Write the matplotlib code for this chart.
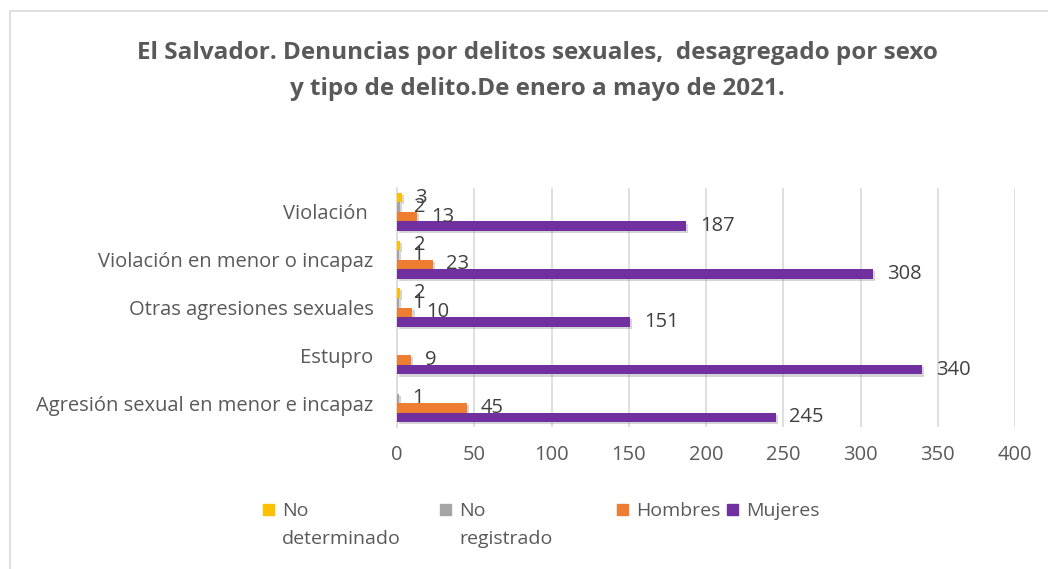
import numpy as np
import matplotlib
import matplotlib.pyplot as plt
import matplotlib.patheffects as pe
from matplotlib.patches import Rectangle

matplotlib.rcParams['font.family'] = ['Open Sans', 'DejaVu Sans']

# bottom to top, as drawn
categories = ['Agresión sexual en menor e incapaz', 'Estupro',
              'Otras agresiones sexuales', 'Violación en menor o incapaz',
              'Violación ']
no_determinado = [0, 0, 2, 2, 3]
no_registrado = [1, 0, 1, 1, 2]
hombres = [45, 9, 10, 23, 13]
mujeres = [245, 340, 151, 308, 187]

series = ['No\ndeterminado', 'No\nregistrado', 'Hombres', 'Mujeres']
values = [no_determinado, no_registrado, hombres, mujeres]
colors = ['#FFC000', '#A5A5A5', '#ED7D31', '#7030A0']
offsets = [0.3, 0.1, -0.1, -0.3]
xticks = [0, 50, 100, 150, 200, 250, 300, 350, 400]

grey = '#595959'
label_col = '#404040'

fig = plt.figure(figsize=(10.48, 5.69), dpi=100)
ax = fig.add_axes([397/1048, 1-427/569, 618/1048, 239/569])

y = np.arange(len(categories))
shadow = [pe.SimplePatchShadow(offset=(1.5, -1.5), shadow_rgbFace='#888888', alpha=0.35),
          pe.Normal()]
for vals, col, off in zip(values, colors, offsets):
    bars = ax.barh(y + off, vals, height=0.2, color=col, zorder=3)
    for b in bars:
        b.set_path_effects(shadow)
    for yy, v in zip(y, vals):
        if v > 0:
            ax.annotate(str(v), (v, yy + off), xytext=(10, 0),
                        textcoords='offset points', va='center', ha='left',
                        fontsize=14.5, color=label_col, zorder=4)

ax.set_xlim(0, 400)
ax.set_ylim(-0.5, len(categories) - 0.5)
ax.set_xticks(xticks)
ax.set_yticks(y)
ax.set_yticklabels(categories)
ax.xaxis.grid(True, color='#D9D9D9', linewidth=1.2, zorder=0)
ax.tick_params(axis='both', length=0, labelsize=14.5, labelcolor=grey)
ax.tick_params(axis='x', pad=13)
ax.tick_params(axis='y', pad=17)
for s in ['top', 'right', 'bottom']:
    ax.spines[s].set_visible(False)
ax.spines['left'].set_color('#D9D9D9')
ax.spines['left'].set_linewidth(1.2)

fig.text(537/1048, 1-53/569,
         'El Salvador. Denuncias por delitos sexuales,  desagregado por sexo',
         ha='center', va='center', fontsize=17.5, fontweight='bold', color=grey)
fig.text(537/1048, 1-89/569,
         'y tipo de delito.De enero a mayo de 2021.',
         ha='center', va='center', fontsize=17.5, fontweight='bold', color=grey)

# legend
leg_x = [263, 440, 617, 727]
for name, col, lx in zip(series, colors, leg_x):
    fig.patches.append(Rectangle((lx/1048, 1-515/569), 11/1048, 11/569,
                                 transform=fig.transFigure, color=col))
    fig.text((lx + 19)/1048, 1-502/569, name, ha='left', va='top',
             fontsize=14, color=grey, linespacing=1.75)

# chart border
fig.patches.append(Rectangle((10/1048, -0.05), 1.1, 1-11/569 + 0.05,
                             transform=fig.transFigure, fill=False,
                             edgecolor='#D9D9D9', linewidth=1.2))

plt.savefig('out.png', dpi=100)
